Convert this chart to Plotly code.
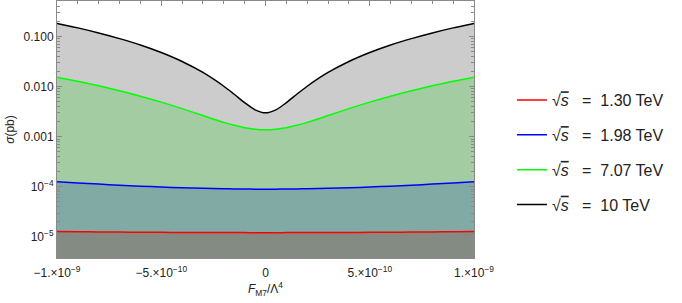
import plotly.graph_objects as go

# F_M7 / Lambda^4 values (units of 1e-9)
f_scaled = [-1.0, -0.9, -0.8, -0.7, -0.6, -0.5, -0.4, -0.3, -0.2, -0.15, -0.1, -0.05, 0.0,
            0.05, 0.1, 0.15, 0.2, 0.3, 0.4, 0.5, 0.6, 0.7, 0.8, 0.9, 1.0]
f_vals = [v * 1e-9 for v in f_scaled]

sigma_130 = [1.28e-5, 1.27e-5, 1.258e-5, 1.25e-5, 1.242e-5, 1.236e-5, 1.23e-5, 1.226e-5, 1.222e-5, 1.221e-5, 1.2205e-5, 1.22e-5, 1.22e-5,
             1.22e-5, 1.2205e-5, 1.221e-5, 1.222e-5, 1.226e-5, 1.23e-5, 1.236e-5, 1.242e-5, 1.25e-5, 1.258e-5, 1.27e-5, 1.28e-5]
sigma_198 = [1.27e-4, 1.20e-4, 1.137e-4, 1.081e-4, 1.033e-4, 9.93e-5, 9.59e-5, 9.33e-5, 9.15e-5, 9.08e-5, 9.04e-5, 9.01e-5, 9.0e-5,
             9.01e-5, 9.04e-5, 9.08e-5, 9.15e-5, 9.33e-5, 9.59e-5, 9.93e-5, 1.033e-4, 1.081e-4, 1.137e-4, 1.20e-4, 1.27e-4]
sigma_707 = [0.0155, 0.0128, 0.0104, 0.00829, 0.00646, 0.00491, 0.00364, 0.00265, 0.00194, 0.00170, 0.00152, 0.00142, 0.00138,
             0.00142, 0.00152, 0.00170, 0.00194, 0.00265, 0.00364, 0.00491, 0.00646, 0.00829, 0.0104, 0.0128, 0.0155]
sigma_10 = [0.183, 0.149, 0.118, 0.091, 0.068, 0.048, 0.0318, 0.0192, 0.0102, 0.00705, 0.0048, 0.00345, 0.0030,
            0.00345, 0.0048, 0.00705, 0.0102, 0.0192, 0.0318, 0.048, 0.068, 0.091, 0.118, 0.149, 0.183]
floor_vals = [1e-7] * len(f_vals)

series_names = ["1.30", "1.98", "7.07", "10"]
series_data = [sigma_130, sigma_198, sigma_707, sigma_10]
line_colors = ["#ff0000", "#0000ff", "#00ff00", "#000000"]
fill_colors = ["#838b83", "#80aaa3", "#a3cca3", "#cccccc"]

y_tickvals = [1e-5, 1e-4, 1e-3, 1e-2, 1e-1]
y_ticktext = ["10<sup>−5</sup>", "10<sup>−4</sup>", "0.001", "0.010", "0.100"]
x_tickvals = [-1e-9, -5e-10, 0, 5e-10, 1e-9]
x_ticktext = ["−1.×10<sup>−9</sup>", "−5.×10<sup>−10</sup>", "0", "5.×10<sup>−10</sup>", "1.×10<sup>−9</sup>"]

fig = go.Figure()
fig.add_trace(go.Scatter(x=f_vals, y=floor_vals, mode="lines", line=dict(width=0),
                         showlegend=False, hoverinfo="skip"))
for name, ys, lc, fc in zip(series_names, series_data, line_colors, fill_colors):
    fig.add_trace(go.Scatter(
        x=f_vals, y=ys, mode="lines", line=dict(color=lc, width=1.5, shape="spline", smoothing=0.8),
        fill="tonexty", fillcolor=fc, showlegend=False, hoverinfo="skip",
    ))
# legend-only entries (line sample without fill)
for name, lc in zip(series_names, line_colors):
    fig.add_trace(go.Scatter(
        x=[None], y=[None], mode="lines", line=dict(color=lc, width=1.5), legendgroup=name,
        name="√<span style='text-decoration:overline'><i>s</i></span>\u00a0\u00a0\u00a0=\u00a0\u00a0" + name + " TeV",
    ))

axis_common = dict(showline=True, linecolor="#8a8a8a", linewidth=1, mirror="ticks",
                   ticks="inside", ticklen=5, tickcolor="#8a8a8a", showgrid=False, zeroline=False,
                   automargin=False,
                   tickfont=dict(family="Liberation Sans, Arial", size=12, color="#222"))

fig.update_xaxes(range=[-1e-9, 1e-9], tickmode="array", tickvals=x_tickvals, ticktext=x_ticktext,
                 ticklabelstandoff=4,
                 minor=dict(ticks="inside", ticklen=3, dtick=1e-10, tickcolor="#8a8a8a", showgrid=False),
                 title=dict(text="<i>F</i><sub>M7</sub>/Λ<sup>4</sup>",
                            font=dict(family="Liberation Sans, Arial", size=12, color="#222"), standoff=2),
                 **axis_common)
fig.update_yaxes(type="log", range=[-5.42, -0.29], tickmode="array", tickvals=y_tickvals, ticktext=y_ticktext,
                 minor=dict(ticks="inside", ticklen=3, dtick="D1", tickcolor="#8a8a8a", showgrid=False),
                 title=dict(text="<i>σ</i>(pb)",
                            font=dict(family="Liberation Sans, Arial", size=12, color="#222"), standoff=6),
                 **axis_common)

fig.update_layout(
    width=682, height=303,
    margin=dict(l=57, r=208, t=1, b=45, autoexpand=False),
    paper_bgcolor="white", plot_bgcolor="white",
    font=dict(family="Liberation Sans, Arial", size=13, color="#222"),
    legend=dict(x=1.091, y=0.41, xanchor="left", yanchor="middle", traceorder="grouped",
                tracegroupgap=11, font=dict(size=16), bgcolor="rgba(0,0,0,0)"),
)

fig.write_html("out.html", config={"displayModeBar": False},
               post_script="document.body.style.margin='0';document.body.style.padding='0';")
